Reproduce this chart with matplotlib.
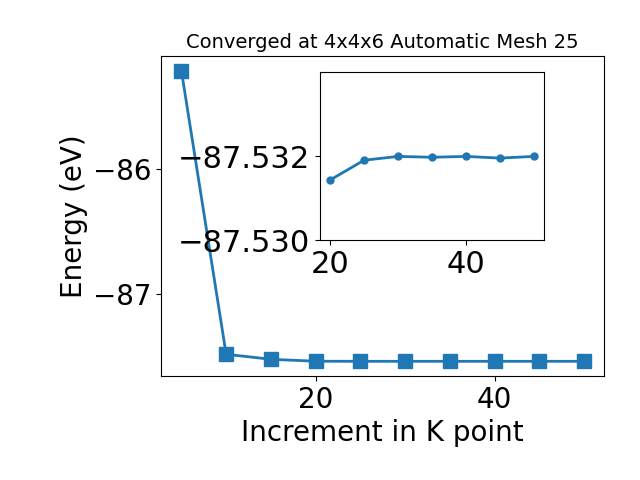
import matplotlib
matplotlib.use("Agg")
import matplotlib.pyplot as plt

# k-point increments and total energies
kpoints = [5, 10, 15, 20, 25, 30, 35, 40, 45, 50]
energy = [-85.22, -87.476, -87.516, -87.5314, -87.5319, -87.5320,
          -87.5320, -87.5320, -87.53195, -87.5320]

# zoomed-in part for the inset
kpoints_zoom = [20, 25, 30, 35, 40, 45, 50]
energy_zoom = [-87.53143, -87.53190, -87.53199, -87.53197,
               -87.53199, -87.53195, -87.53199]

fig = plt.figure(figsize=(6.4, 4.8), dpi=100)
ax = fig.add_axes([0.252, 0.217, 0.692, 0.666])
ax.plot(kpoints, energy, marker='s', markersize=10, linewidth=2, color='#1f77b4')
ax.set_xlabel("Increment in K point", fontsize=20)
ax.set_ylabel("Energy (eV)", fontsize=20)
ax.set_title("Converged at 4x4x6 Automatic Mesh 25", fontsize=14)
ax.set_xticks([20, 40])
ax.set_yticks([-86, -87])
ax.tick_params(labelsize=20)

inset = fig.add_axes([0.5, 0.5, 0.35, 0.35])
inset.plot(kpoints_zoom, energy_zoom, marker='o', markersize=5, linewidth=2, color='#1f77b4')
inset.set_ylim(-87.530, -87.534)
inset.set_xticks([20, 40])
inset.set_yticks([-87.532, -87.530])
inset.tick_params(labelsize=22)

plt.savefig("out.png")
